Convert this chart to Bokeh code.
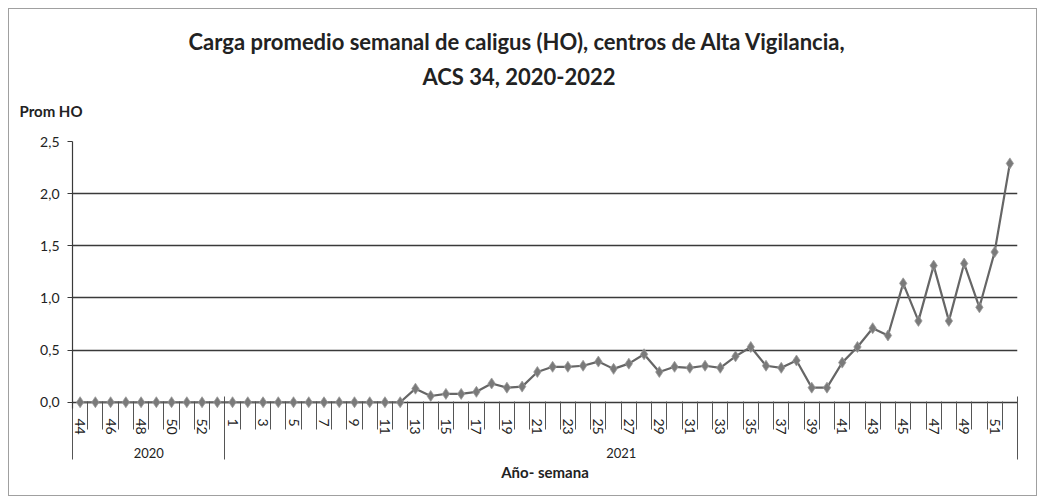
from bokeh.plotting import figure
from bokeh.models import Range1d, FixedTicker, LinearAxis, Title, CustomJSTickFormatter
from bokeh.embed import file_html
from bokeh.resources import INLINE

# ---------------- data ----------------
years = ["2020", "2021"]
weeks_2020 = [44, 45, 46, 47, 48, 49, 50, 51, 52, 53]
weeks_2021 = [1, 2, 3, 4, 5, 6, 7, 8, 9, 10, 11, 12, 13, 14, 15, 16, 17, 18, 19, 20,
              21, 22, 23, 24, 25, 26, 27, 28, 29, 30, 31, 32, 33, 34, 35, 36, 37, 38, 39, 40,
              41, 42, 43, 44, 45, 46, 47, 48, 49, 50, 51, 52]
values_2020 = [0.00, 0.00, 0.00, 0.00, 0.00, 0.00, 0.00, 0.00, 0.00, 0.00]
values_2021 = [0.00, 0.00, 0.00, 0.00, 0.00, 0.00, 0.00, 0.00, 0.00, 0.00, 0.00, 0.00,
               0.13, 0.06, 0.08, 0.08, 0.10, 0.18, 0.14, 0.15,
               0.29, 0.34, 0.34, 0.35, 0.39, 0.32, 0.37, 0.46, 0.29, 0.34,
               0.33, 0.35, 0.33, 0.44, 0.53, 0.35, 0.33, 0.40, 0.14, 0.14,
               0.38, 0.53, 0.71, 0.64, 1.14, 0.78, 1.31, 0.78, 1.33, 0.91,
               1.44, 2.29]
y_ticks = [0.0, 0.5, 1.0, 1.5, 2.0, 2.5]

title_line1 = "Carga promedio semanal de caligus (HO), centros de Alta Vigilancia,"
title_line2 = "ACS 34, 2020-2022"
y_title = "Prom HO"
x_title = "Año- semana"

# ---------------- derived positions ----------------
weeks = weeks_2020 + weeks_2021
values = values_2020 + values_2021
xs = list(range(len(weeks)))
n20, n21 = len(weeks_2020), len(weeks_2021)

label_idx = [i for i in xs if i % 2 == 0]
label_over = {i: str(weeks[i]) for i in label_idx}
sep_pos = [i - 0.5 for i in range(len(weeks) + 1)]
group_bounds = [-0.5, n20 - 0.5, n20 + n21 - 0.5]
group_centers = [(n20 - 1) / 2, n20 + (n21 - 1) / 2]

FONT = "Lato"
DARK = "#3a3a3a"
TXT = "#222222"

p = figure(width=1029, height=488,
           x_range=Range1d(-0.5, len(weeks) - 0.5), y_range=Range1d(-0.06, 2.5),
           output_backend="svg", toolbar_location=None, title=None,
           min_border_left=63, min_border_right=21, min_border_top=132, min_border_bottom=89)
p.margin = (8, 0, 0, 8)
p.outline_line_color = None
p.background_fill_color = "white"
p.border_fill_color = "white"
p.styles = {"border": "1px solid #a0a0a0"}

# grid
p.xgrid.visible = False
p.ygrid.ticker = FixedTicker(ticks=y_ticks)
p.ygrid.grid_line_color = DARK
p.ygrid.grid_line_width = 1.4

# y axis
ya = p.yaxis[0]
ya.ticker = FixedTicker(ticks=y_ticks)
ya.formatter = CustomJSTickFormatter(code="return tick.toFixed(1).replace('.', ',');")
ya.axis_line_color = DARK
ya.axis_line_width = 1.2
ya.major_tick_out = 5
ya.major_tick_in = 0
ya.major_tick_line_color = DARK
ya.minor_tick_line_color = None
ya.major_label_standoff = 8
ya.major_label_text_font = FONT
ya.major_label_text_font_size = "14px"
ya.major_label_text_color = TXT

# x axis (weeks)
xa = p.xaxis[0]
xa.ticker = FixedTicker(ticks=label_idx, minor_ticks=sep_pos)
xa.major_label_overrides = label_over
xa.major_label_orientation = "vertical"
xa.axis_line_color = None
xa.major_tick_out = 0
xa.major_tick_in = 0
xa.minor_tick_in = 7
xa.minor_tick_out = 21
xa.minor_tick_line_color = "#555555"
xa.minor_tick_line_width = 1
xa.major_label_standoff = -11
xa.major_label_text_font = FONT
xa.major_label_text_font_size = "14px"
xa.major_label_text_color = TXT

# x axis (years)
xa2 = LinearAxis(ticker=FixedTicker(ticks=group_centers, minor_ticks=group_bounds),
                 major_label_overrides={group_centers[0]: years[0], group_centers[1]: years[1]},
                 axis_label=x_title)
xa2.axis_line_color = None
xa2.major_tick_out = 0
xa2.major_tick_in = 0
xa2.minor_tick_in = 41
xa2.minor_tick_out = 22
xa2.minor_tick_line_color = "#555555"
xa2.minor_tick_line_width = 1
xa2.major_label_standoff = -12
xa2.major_label_text_font = FONT
xa2.major_label_text_font_size = "13px"
xa2.major_label_text_color = TXT
xa2.axis_label_text_font = FONT
xa2.axis_label_text_font_size = "15px"
xa2.axis_label_text_font_style = "bold"
xa2.axis_label_text_color = TXT
xa2.axis_label_standoff = 2
p.add_layout(xa2, "below")

# series
p.line(xs, values, line_color="#666666", line_width=2.2)
p.scatter(xs, values, marker="diamond", size=11, fill_color="#7a7a7a",
          line_color="#9a9a9a", line_width=0.8)

# titles (closest to the frame first)
p.add_layout(Title(text=y_title + "\n ", align="left", offset=-53, text_font=FONT,
                   text_font_size="15px", text_font_style="bold", text_color=TXT,
                   standoff=7), "above")
p.add_layout(Title(text=title_line2, align="left", offset=350, text_font=FONT,
                   text_font_size="22px", text_font_style="bold", text_color=TXT,
                   standoff=13), "above")
p.add_layout(Title(text=title_line1, align="left", offset=116, text_font=FONT,
                   text_font_size="22px", text_font_style="bold", text_color=TXT,
                   standoff=0), "above")

open("out.html", "w").write(file_html(p, INLINE))
